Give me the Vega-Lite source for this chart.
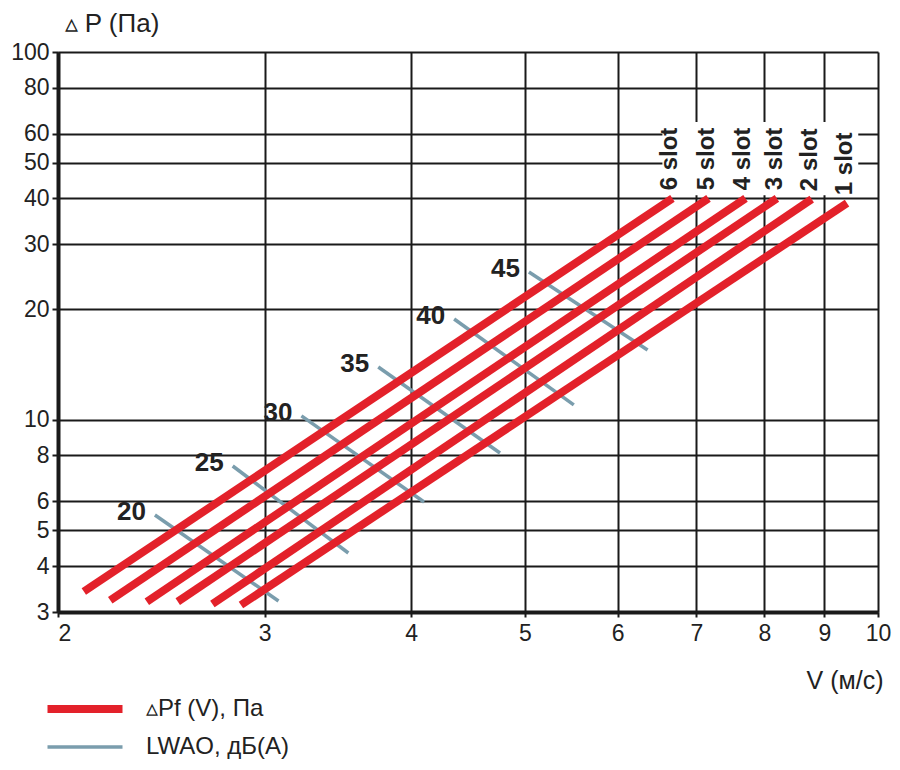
{
  "$schema": "https://vega.github.io/schema/vega-lite/v6.json",
  "width": 820,
  "height": 560,
  "autosize": {"type": "none"},
  "padding": {"left": 58, "top": 52, "right": 22, "bottom": 158},
  "background": "white",
  "config": {"font": "Liberation Sans", "view": {"stroke": null}},
  "datasets": {
    "curves": [
      {"kind": "pf", "id": "6 slot", "pt": "start", "v": 2.104, "p": 3.41},
      {"kind": "pf", "id": "6 slot", "pt": "end", "v": 6.68, "p": 40},
      {"kind": "pf", "id": "5 slot", "pt": "start", "v": 2.216, "p": 3.23},
      {"kind": "pf", "id": "5 slot", "pt": "end", "v": 7.17, "p": 40},
      {"kind": "pf", "id": "4 slot", "pt": "start", "v": 2.381, "p": 3.2},
      {"kind": "pf", "id": "4 slot", "pt": "end", "v": 7.71, "p": 40},
      {"kind": "pf", "id": "3 slot", "pt": "start", "v": 2.53, "p": 3.2},
      {"kind": "pf", "id": "3 slot", "pt": "end", "v": 8.2, "p": 40},
      {"kind": "pf", "id": "2 slot", "pt": "start", "v": 2.708, "p": 3.154},
      {"kind": "pf", "id": "2 slot", "pt": "end", "v": 8.78, "p": 39.8},
      {"kind": "pf", "id": "1 slot", "pt": "start", "v": 2.864, "p": 3.134},
      {"kind": "pf", "id": "1 slot", "pt": "end", "v": 9.41, "p": 38.8},
      {"kind": "lw", "id": "20", "pt": "start", "v": 2.419, "p": 5.507},
      {"kind": "lw", "id": "20", "pt": "end", "v": 3.083, "p": 3.214},
      {"kind": "lw", "id": "25", "pt": "start", "v": 2.818, "p": 7.484},
      {"kind": "lw", "id": "25", "pt": "end", "v": 3.536, "p": 4.341},
      {"kind": "lw", "id": "30", "pt": "start", "v": 3.225, "p": 10.24},
      {"kind": "lw", "id": "30", "pt": "end", "v": 4.103, "p": 5.974},
      {"kind": "lw", "id": "35", "pt": "start", "v": 3.75, "p": 13.91},
      {"kind": "lw", "id": "35", "pt": "end", "v": 4.762, "p": 8.12},
      {"kind": "lw", "id": "40", "pt": "start", "v": 4.352, "p": 18.79},
      {"kind": "lw", "id": "40", "pt": "end", "v": 5.504, "p": 10.97},
      {"kind": "lw", "id": "45", "pt": "start", "v": 5.04, "p": 25.22},
      {"kind": "lw", "id": "45", "pt": "end", "v": 6.362, "p": 15.47}
    ]
  },
  "data": {"name": "curves"},
  "encoding": {
    "x": {
      "field": "v",
      "type": "quantitative",
      "scale": {"type": "log", "domain": [2, 10], "nice": false},
      "axis": {
        "values": [2, 3, 4, 5, 6, 7, 8, 9, 10],
        "format": "d",
        "grid": true,
        "gridColor": "#1a1a1a",
        "gridWidth": 2,
        "gridOpacity": 1,
        "domainColor": "#1a1a1a",
        "domainWidth": 4,
        "tickColor": "#1a1a1a",
        "tickSize": 5,
        "tickWidth": 2,
        "labelFontSize": 23,
        "labelColor": "#222222",
        "labelPadding": 5,
        "labelAlign": {"condition": {"test": "datum.value <= 2", "value": "left"}, "value": "center"},
        "title": "V (м/с)",
        "titleFontSize": 25,
        "titleFontWeight": "normal",
        "titleColor": "#222222",
        "titleAnchor": "end",
        "titleAlign": "right",
        "titleX": 825,
        "titleY": 76,
        "titleBaseline": "alphabetic"
      }
    },
    "y": {
      "field": "p",
      "type": "quantitative",
      "scale": {"type": "log", "domain": [3, 100], "nice": false},
      "axis": {
        "values": [3, 4, 5, 6, 8, 10, 20, 30, 40, 50, 60, 80, 100],
        "format": "d",
        "grid": true,
        "gridColor": "#1a1a1a",
        "gridWidth": 2,
        "gridOpacity": 1,
        "domainColor": "#1a1a1a",
        "domainWidth": 4,
        "tickColor": "#1a1a1a",
        "tickSize": 6,
        "tickWidth": 2,
        "labelFontSize": 23,
        "labelColor": "#222222",
        "labelPadding": 3,
        "title": "▵ P (Па)",
        "titleFontSize": 26,
        "titleFontWeight": "normal",
        "titleColor": "#222222",
        "titleAngle": 0,
        "titleAlign": "left",
        "titleX": 6,
        "titleY": -21,
        "titleBaseline": "alphabetic"
      }
    }
  },
  "layer": [
    {
      "data": {"values": [{"v": 6.55, "v2": 9.62, "p": 40.8, "p2": 64.5}]},
      "mark": {"type": "rect", "color": "white"},
      "encoding": {
        "x2": {"field": "v2"},
        "y2": {"field": "p2"}
      }
    },
    {
      "transform": [{"filter": "datum.kind == 'lw'"}],
      "mark": {"type": "line", "strokeCap": "butt"},
      "encoding": {
        "detail": {"field": "id"},
        "color": {
          "field": "kind",
          "type": "nominal",
          "scale": {"domain": ["pf", "lw"], "range": ["#e3212a", "#7a9dad"]},
          "legend": {
            "title": null,
            "orient": "none",
            "legendX": 15,
            "legendY": 645,
            "padding": 0,
            "symbolType": "M-5,0H5",
            "symbolSize": 225,
            "labelFontSize": 24,
            "labelColor": "#222222",
            "labelOffset": 49,
            "rowPadding": 10,
            "labelExpr": "datum.label == 'pf' ? '▵Pf (V), Па' : 'LWAO, дБ(A)'"
          }
        },
        "strokeWidth": {
          "field": "kind",
          "type": "nominal",
          "scale": {"domain": ["pf", "lw"], "range": [8, 3.5]}
        }
      }
    },
    {
      "transform": [{"filter": "datum.kind == 'pf'"}],
      "mark": {"type": "line", "strokeCap": "butt"},
      "encoding": {
        "detail": {"field": "id"},
        "color": {
          "field": "kind",
          "type": "nominal",
          "scale": {"domain": ["pf", "lw"], "range": ["#e3212a", "#7a9dad"]}
        },
        "strokeWidth": {
          "field": "kind",
          "type": "nominal",
          "scale": {"domain": ["pf", "lw"], "range": [8, 3.5]}
        }
      }
    },
    {
      "transform": [{"filter": "datum.kind == 'lw' && datum.pt == 'start'"}],
      "mark": {"type": "text", "align": "right", "baseline": "middle", "dx": -9, "dy": -3, "fontSize": 26, "fontWeight": "bold", "color": "#222222"},
      "encoding": {"text": {"field": "id"}}
    },
    {
      "transform": [{"filter": "datum.kind == 'pf' && datum.pt == 'end'"}],
      "mark": {"type": "text", "angle": 270, "align": "left", "baseline": "middle", "dx": 8, "dy": -2, "fontSize": 24, "fontWeight": "bold", "color": "#222222"},
      "encoding": {"text": {"field": "id"}}
    }
  ]
}
